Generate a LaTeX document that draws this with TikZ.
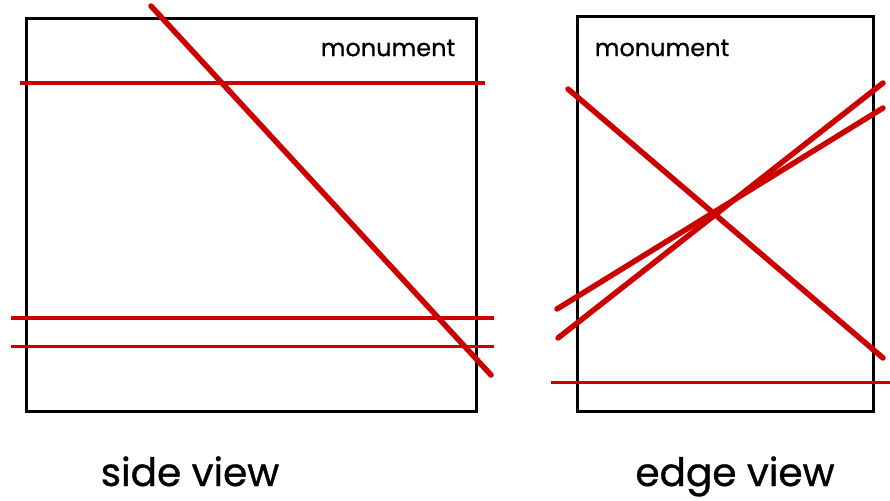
\documentclass[tikz,border=0pt]{standalone}
\usepackage{fontspec}
\setmainfont{Poppins}
\newfontfamily\lblfont{Poppins}[FakeBold=0.8]
\begin{document}
\begin{tikzpicture}[x=1pt,y=-1pt,
  boxline/.style={draw=black,line width=3pt},
  redthick/.style={draw={rgb,255:red,204;green,0;blue,0},line width=5.5pt,line cap=round},
  redmed/.style={draw={rgb,255:red,204;green,0;blue,0},line width=4pt},
  redthin/.style={draw={rgb,255:red,204;green,0;blue,0},line width=3pt},
  lbl/.style={font=\lblfont\fontsize{24}{26}\selectfont,text=black,inner sep=0pt},
  captext/.style={font=\lblfont\fontsize{39}{42}\selectfont,text=black,inner sep=0pt,anchor=base}]
\useasboundingbox (0,0) rectangle (890,500);
\fill[white] (0,0) rectangle (890,500);
% boxes
\draw[boxline] (26,19) rectangle (476,411);
\draw[boxline] (577,17) rectangle (873,411);
% labels
\node[lbl] (m1) at (388,48) {monument};
\node[lbl] (m2) at (662,48) {monument};
\node[captext] (s1) at (190,486) {side view};
\node[captext] (s2) at (735,486) {edge view};
% side view red lines
\draw[redmed] (20,83) -- (485,83);
\draw[redmed] (11,318) -- (494,318);
\draw[redthin] (11,346) -- (494,346);
\draw[redthick] (151,6) -- (491,375);
% edge view red lines
\draw[redthick] (568,89) -- (883,358);
\draw[redthick] (557,309) -- (883,108);
\draw[redthick] (558,338) -- (883,83);
\draw[redthin] (551,382) -- (890,382);
\end{tikzpicture}
\end{document}
